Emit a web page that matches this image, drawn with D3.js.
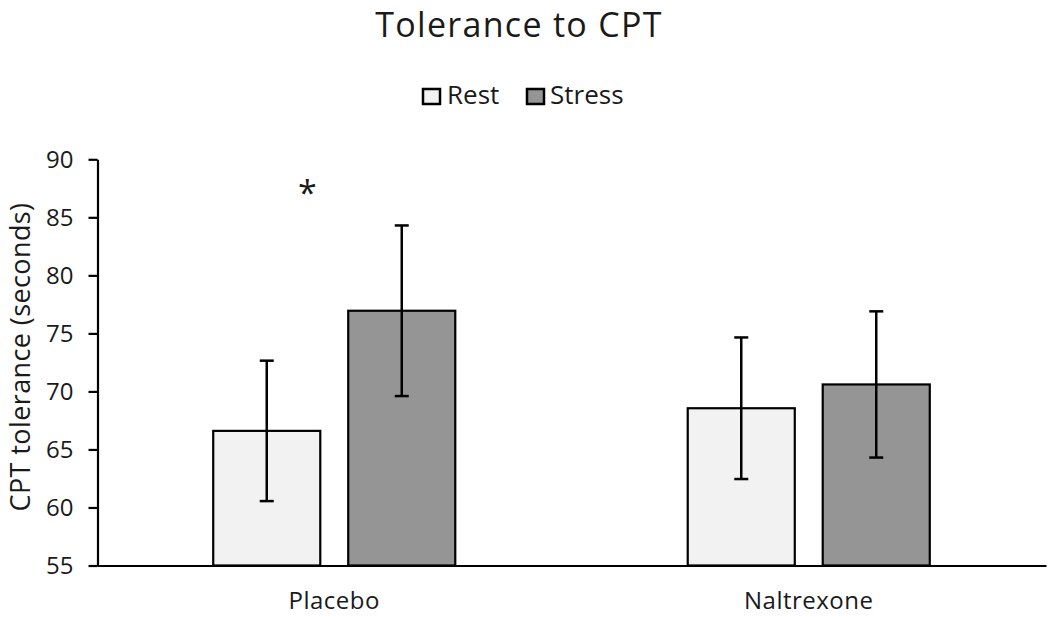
<!DOCTYPE html>
<html><head><meta charset="utf-8">
<script src="https://cdn.jsdelivr.net/npm/d3@7"></script>
<style>body{margin:0;background:#fff}svg{display:block}text{font-family:"Open Sans",sans-serif;fill:#1a1a1a}</style>
</head><body><svg id="c" width="1050" height="617"></svg>
<script>
const categories = ["Placebo", "Naltrexone"];
const seriesNames = ["Rest", "Stress"];
const restValues = [66.6, 68.55];
const stressValues = [76.95, 70.6];
const restErrors = [6.05, 6.1];
const stressErrors = [7.35, 6.3];
const yTicks = [55, 60, 65, 70, 75, 80, 85, 90];
const colors = {Rest: "#f2f2f2", Stress: "#959595"};

const svg = d3.select("#c");
const x0 = d3.scaleBand().domain(categories).range([97, 1046]).padding(0);
const x1 = d3.scaleBand().domain(seriesNames).range([0, x0.bandwidth()]).paddingInner(0.207).paddingOuter(0.861);
const y = d3.scaleLinear().domain([55, 90]).range([565.5, 159.3]);

const data = [];
categories.forEach((c, i) => {
  data.push({cat: c, s: "Rest", v: restValues[i], e: restErrors[i]});
  data.push({cat: c, s: "Stress", v: stressValues[i], e: stressErrors[i]});
});

// title
svg.append("text").attr("x", 519).attr("y", 36.5).attr("text-anchor", "middle")
  .style("font-size", "34px").style("letter-spacing", "1.3px").text("Tolerance to CPT");

// legend
const leg = svg.append("g");
const legItems = [{s: "Rest", bx: 423, tx: 447}, {s: "Stress", bx: 527, tx: 550}];
legItems.forEach(d => {
  leg.append("rect").attr("x", d.bx).attr("y", 89).attr("width", 17).attr("height", 15)
    .attr("fill", colors[d.s]).attr("stroke", "#000").attr("stroke-width", 2.5);
  leg.append("text").attr("x", d.tx).attr("y", 104).style("font-size", "26px").text(d.s);
});

// bars
svg.append("g").selectAll("rect").data(data).join("rect")
  .attr("x", d => x0(d.cat) + x1(d.s))
  .attr("y", d => y(d.v))
  .attr("width", x1.bandwidth())
  .attr("height", d => y(55) - y(d.v))
  .attr("fill", d => colors[d.s])
  .attr("stroke", "#000").attr("stroke-width", 2.2);

// error bars
const eb = svg.append("g").attr("stroke", "#000").attr("stroke-width", 2.5);
data.forEach(d => {
  const cx = x0(d.cat) + x1(d.s) + x1.bandwidth() / 2;
  eb.append("line").attr("x1", cx).attr("x2", cx).attr("y1", y(d.v + d.e)).attr("y2", y(d.v - d.e));
  eb.append("line").attr("x1", cx - 7).attr("x2", cx + 7).attr("y1", y(d.v + d.e)).attr("y2", y(d.v + d.e));
  eb.append("line").attr("x1", cx - 7).attr("x2", cx + 7).attr("y1", y(d.v - d.e)).attr("y2", y(d.v - d.e));
});

// y axis
const yAxis = d3.axisLeft(y).tickValues(yTicks).tickSize(9).tickSizeOuter(0).tickPadding(15);
const ga = svg.append("g").attr("transform", "translate(97.5,0)").call(yAxis);
ga.select(".domain").attr("stroke", "#000").attr("stroke-width", 2.2);
ga.selectAll(".tick line").attr("stroke", "#000").attr("stroke-width", 2.2);
ga.selectAll(".tick text").style("font-size", "24px").style("font-family", "'Open Sans',sans-serif").attr("fill", "#1a1a1a").attr("dy", "0.35em");

// x axis
const xAxis = d3.axisBottom(x0).tickSize(0).tickPadding(26);
const gx = svg.append("g").attr("transform", "translate(0,565.5)").call(xAxis);
gx.select(".domain").attr("stroke", "#000").attr("stroke-width", 2.2);
gx.selectAll(".tick text").style("font-size", "24px").style("letter-spacing", "0.5px").style("font-family", "'Open Sans',sans-serif").attr("fill", "#1a1a1a");

// y label
svg.append("text").attr("transform", "translate(30,357) rotate(-90)").attr("text-anchor", "middle")
  .style("font-size", "27px").style("letter-spacing", "0.4px").text("CPT tolerance (seconds)");

// significance
svg.append("text").attr("x", x0("Placebo") + x1("Rest") + x1.bandwidth() - 13).attr("y", 205)
  .attr("text-anchor", "middle").style("font-size", "34px").text("*");
</script></body></html>
